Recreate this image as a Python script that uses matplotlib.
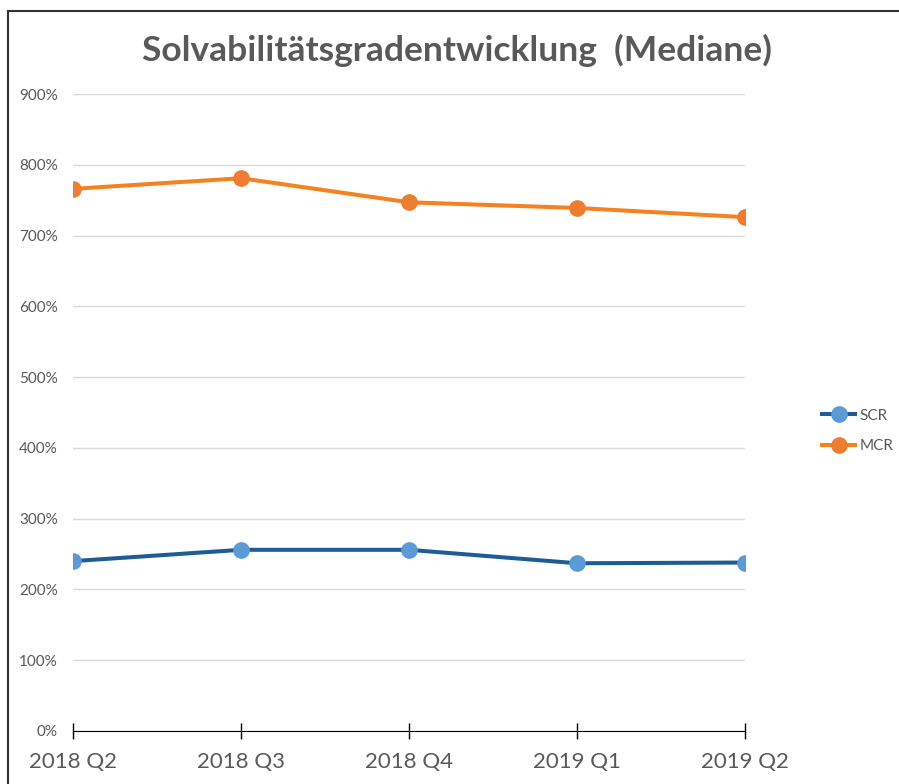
import matplotlib
matplotlib.use("Agg")
import matplotlib.pyplot as plt
from matplotlib.lines import Line2D

categories = ["2018 Q2", "2018 Q3", "2018 Q4", "2019 Q1", "2019 Q2"]
scr = [240, 256, 256, 237, 238]
mcr = [766, 781, 747, 739, 726]
yticks = [0, 100, 200, 300, 400, 500, 600, 700, 800, 900]

plt.rcParams['font.family'] = ['Lato', 'DejaVu Sans']
GRAY = '#595959'

fig = plt.figure(figsize=(8.99, 7.84), dpi=100)
ax = fig.add_axes([73/899, 1-731/784, (745-73)/899, (731-94)/784])

x = list(range(len(categories)))
ax.plot(x, scr, color='#1F5C94', lw=2.9, marker='o', ms=11,
        markerfacecolor='#5B9BD5', markeredgecolor='#5B9BD5', zorder=3, label='SCR')
ax.plot(x, mcr, color='#F58220', lw=2.9, marker='o', ms=11,
        markerfacecolor='#ED7D31', markeredgecolor='#ED7D31', zorder=3, label='MCR')

ax.set_xlim(0, len(categories)-1)
ax.set_ylim(0, 900)
ax.set_yticks(yticks)
ax.set_yticklabels([f"{v}%" for v in yticks], color=GRAY, fontsize=11)
ax.tick_params(axis='y', length=0, pad=11)
ax.yaxis.grid(True, color='#D9D9D9', lw=1)
ax.set_axisbelow(True)
ax.set_xticks(x)
ax.set_xticklabels(categories, color=GRAY, fontsize=16)
ax.tick_params(axis='x', direction='inout', length=12, width=1, color='black', pad=9)
for s in ['top', 'right', 'left']:
    ax.spines[s].set_visible(False)
ax.spines['bottom'].set_color('black')

fig.text(457/899, 1-50/784, "Solvabilitätsgradentwicklung  (Mediane)", ha='center', va='center',
         fontsize=25.5, fontweight='bold', color=GRAY)

handles = [Line2D([0], [0], color='#1F5C94', lw=2.9, marker='o', ms=11, markerfacecolor='#5B9BD5', markeredgecolor='#5B9BD5'),
           Line2D([0], [0], color='#F58220', lw=2.9, marker='o', ms=11, markerfacecolor='#ED7D31', markeredgecolor='#ED7D31')]
fig.legend(handles, ['SCR', 'MCR'], loc='center left', bbox_to_anchor=(808/899, 1-431/784),
           frameon=False, fontsize=11, labelcolor=GRAY, handlelength=2.2, handletextpad=0.3,
           labelspacing=1.1)

fig.add_artist(Line2D([8/899, 8/899], [0, 1-11/784], transform=fig.transFigure, color='#333333', lw=1.5))
fig.add_artist(Line2D([8/899, 1.01], [1-11/784, 1-11/784], transform=fig.transFigure, color='#333333', lw=1.5))

fig.savefig("out.png", dpi=100)
